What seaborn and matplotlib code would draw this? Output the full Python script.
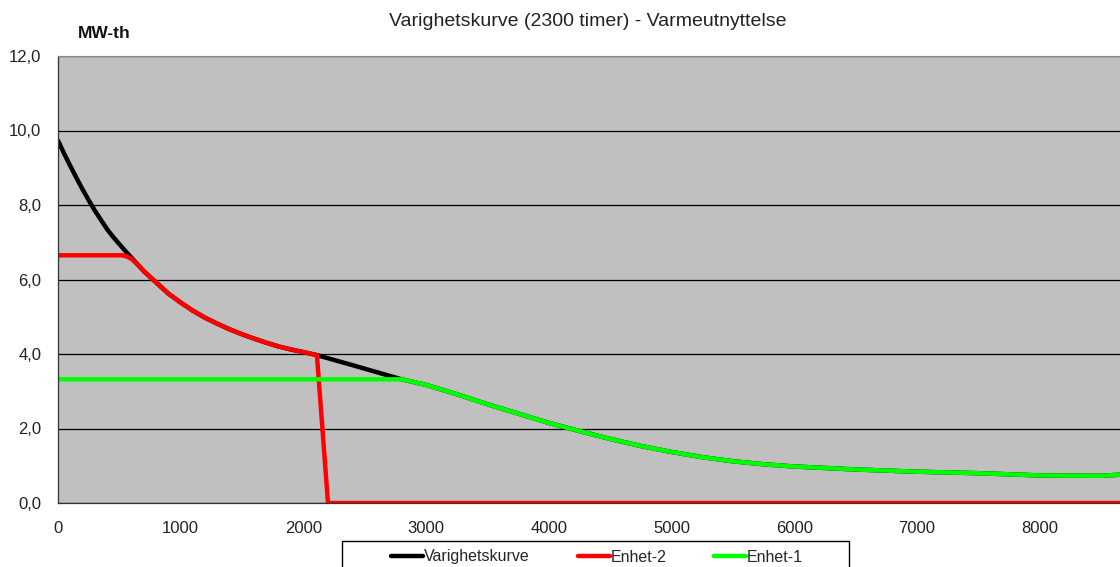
import matplotlib
matplotlib.use("Agg")
import matplotlib.pyplot as plt
from matplotlib.patches import Rectangle
import numpy as np
import seaborn as sns

# Varighetskurve (total heat demand), hours vs MW-th
timer = [0, 50, 100, 150, 200, 250, 300, 350, 400, 450, 500, 550, 600, 650,
         700, 800, 900, 1000, 1100, 1200, 1300, 1400, 1500, 1600, 1700, 1800,
         1900, 2000, 2110, 2400, 2800, 3000, 3250, 3500, 3750, 4000, 4250,
         4500, 4750, 5000, 5250, 5500, 5750, 6000, 6500, 7000, 7500, 8000,
         8500, 8760]
varighet = [9.73, 9.38, 9.05, 8.73, 8.42, 8.13, 7.85, 7.60, 7.35, 7.14, 6.95,
            6.76, 6.58, 6.40, 6.22, 5.92, 5.62, 5.38, 5.16, 4.97, 4.81, 4.66,
            4.53, 4.41, 4.30, 4.20, 4.12, 4.05, 3.97, 3.70, 3.32, 3.17, 2.92,
            2.65, 2.40, 2.15, 1.93, 1.72, 1.53, 1.37, 1.23, 1.12, 1.04, 0.98,
            0.90, 0.84, 0.80, 0.74, 0.73, 0.78]

# Enhet-2: capped at 6.65, follows curve, shuts off at ~2200 h
enhet2_timer = [0, 520, 560, 600, 650, 700, 800, 900, 1000, 1100, 1200, 1300,
                1400, 1500, 1600, 1700, 1800, 1900, 2000, 2110, 2200, 8760]
enhet2 = [6.65, 6.65, 6.62, 6.55, 6.40, 6.22, 5.92, 5.62, 5.38, 5.16, 4.97,
          4.81, 4.66, 4.53, 4.41, 4.30, 4.20, 4.12, 4.05, 3.97, 0.0, 0.0]

# Enhet-1: capped at 3.32, follows curve after ~2800 h
enhet1_timer = [0, 2800, 3000, 3250, 3500, 3750, 4000, 4250, 4500, 4750,
                5000, 5250, 5500, 5750, 6000, 6500, 7000, 7500, 8000, 8500,
                8760]
enhet1 = [3.32, 3.32, 3.17, 2.92, 2.65, 2.40, 2.15, 1.93, 1.72, 1.53, 1.37,
          1.23, 1.12, 1.04, 0.98, 0.90, 0.84, 0.80, 0.74, 0.73, 0.78]

sns.set_style("white")
plt.rcParams['font.family'] = ['Liberation Sans', 'DejaVu Sans']

fig = plt.figure(figsize=(11.2, 5.67), dpi=100)
ax = fig.add_axes([58 / 1120, 1 - 503 / 567, (1133 - 58) / 1120, (503 - 56) / 567])
ax.set_facecolor('#c0c0c0')

sns.lineplot(x=timer, y=varighet, color='black', lw=3.2, label='Varighetskurve', ax=ax)
sns.lineplot(x=enhet2_timer, y=enhet2, color='#ff0000', lw=3.2, label='Enhet-2', ax=ax)
sns.lineplot(x=enhet1_timer, y=enhet1, color='#00ff00', lw=3.2, label='Enhet-1', ax=ax)

ax.set_xlim(0, 8760)
ax.set_ylim(0, 12)
ax.set_xticks(np.arange(0, 9000, 1000))
ax.set_yticks(np.arange(0, 13, 2))
ax.set_yticklabels([f"{v:.1f}".replace('.', ',') for v in np.arange(0, 13, 2)])
ax.yaxis.grid(True, color='black', lw=0.9)
ax.set_axisbelow(True)
ax.tick_params(axis='both', direction='out', length=4, width=0.9, colors='#333333',
               labelsize=12, labelcolor='#222222', pad=8)
ax.tick_params(axis='x', pad=9)
for s in ['left', 'bottom']:
    ax.spines[s].set_color('#333333')
    ax.spines[s].set_linewidth(0.9)
ax.spines['top'].set_color('#888888')
ax.spines['right'].set_visible(False)
ax.set_xlabel('')
ax.set_ylabel('')

fig.text(588 / 1120, 1 - 22 / 567, 'Varighetskurve (2300 timer) - Varmeutnyttelse',
         ha='center', va='center', fontsize=14, color='#222222')
fig.text(78 / 1120, 1 - 33 / 567, 'MW-th', ha='left', va='center', fontsize=12.5,
         fontweight='bold', color='#111111')

# legend box (Excel style, cut off at bottom edge)
fig.patches.append(Rectangle((342 / 1120, -0.05), (849 - 342) / 1120, 0.05 + 1 - 541 / 567,
                             transform=fig.transFigure, facecolor='none',
                             edgecolor='black', lw=1))
leg = ax.legend(loc='center', bbox_to_anchor=(597 / 1120, 1 - 557 / 567),
                bbox_transform=fig.transFigure, ncol=3, frameon=False,
                fontsize=11.5, handlelength=2.0, handletextpad=0.05, columnspacing=3.0,
                borderpad=0, borderaxespad=0)

fig.savefig('out.png', dpi=100)
